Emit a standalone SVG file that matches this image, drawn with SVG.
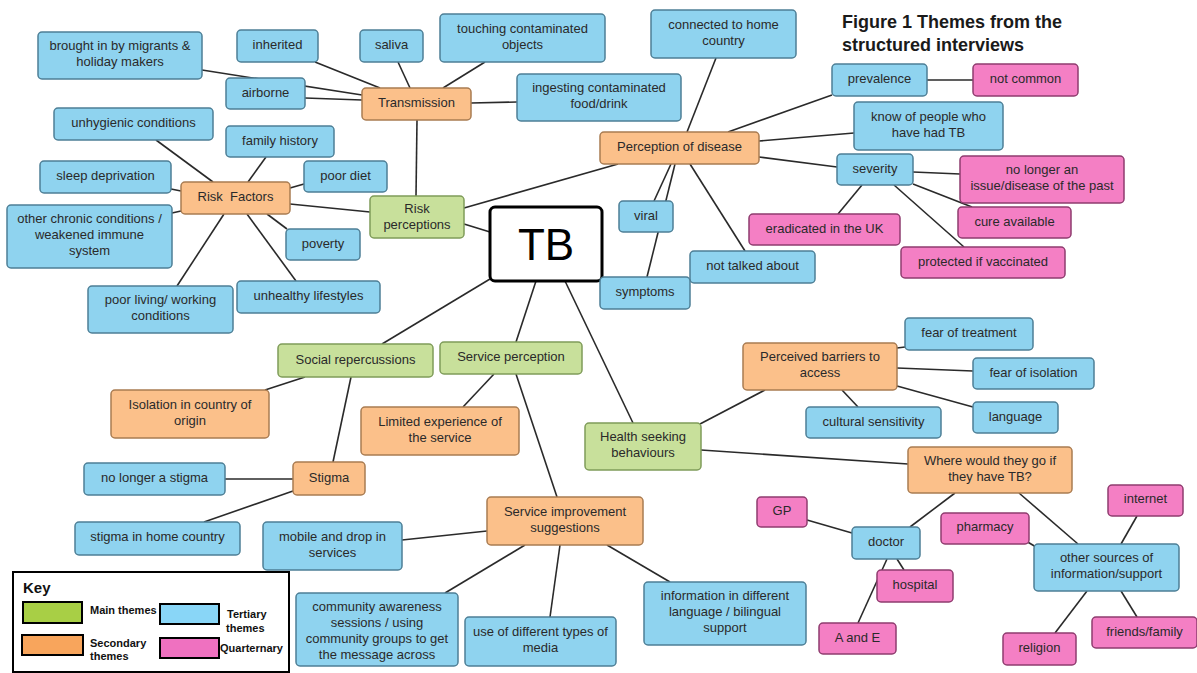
<svg xmlns="http://www.w3.org/2000/svg" width="1197" height="673" viewBox="0 0 1197 673">
<style>
.b{fill:#8fd3ef;stroke:#4e7f96;stroke-width:1.5}
.o{fill:#fbc08a;stroke:#a97c52;stroke-width:1.5}
.g{fill:#c8e09b;stroke:#7f9c5a;stroke-width:1.5}
.p{fill:#f47fc4;stroke:#8f3c6f;stroke-width:1.5}
text{font-family:"Liberation Sans",Arial,sans-serif;font-size:13px;fill:#2a2a2a;text-anchor:middle}
.k{font-weight:bold;font-size:11px;fill:#111;text-anchor:start}
.ttl{font-weight:bold;font-size:18px;fill:#1a1a1a;text-anchor:start}
#connectors line{stroke:#2a2a2a;stroke-width:1.6}
</style>
<rect width="1197" height="673" fill="#fff"/>
<g id="connectors">
<line x1="202" y1="70" x2="362" y2="95"/>
<line x1="305" y1="98" x2="362" y2="100"/>
<line x1="315" y1="62" x2="380" y2="88"/>
<line x1="398" y1="62" x2="410" y2="88"/>
<line x1="485" y1="62" x2="443" y2="88"/>
<line x1="517" y1="102" x2="471" y2="103"/>
<line x1="417" y1="120" x2="416" y2="196"/>
<line x1="156" y1="140" x2="213" y2="182"/>
<line x1="266" y1="157" x2="248" y2="182"/>
<line x1="171" y1="189" x2="181" y2="191"/>
<line x1="304" y1="184" x2="290" y2="188"/>
<line x1="172" y1="213" x2="181" y2="211"/>
<line x1="290" y1="204" x2="370" y2="212"/>
<line x1="287" y1="229" x2="267" y2="214"/>
<line x1="296" y1="281" x2="247" y2="214"/>
<line x1="177" y1="286" x2="224" y2="214"/>
<line x1="464" y1="224" x2="490" y2="232"/>
<line x1="464" y1="208" x2="618" y2="164"/>
<line x1="716" y1="58" x2="687" y2="132"/>
<line x1="832" y1="95" x2="728" y2="132"/>
<line x1="854" y1="133" x2="759" y2="141"/>
<line x1="837" y1="167" x2="759" y2="157"/>
<line x1="671" y1="164" x2="654" y2="201"/>
<line x1="675" y1="164" x2="647" y2="277"/>
<line x1="690" y1="164" x2="745" y2="251"/>
<line x1="927" y1="80" x2="973" y2="80"/>
<line x1="913" y1="172" x2="960" y2="174"/>
<line x1="913" y1="184" x2="972" y2="207"/>
<line x1="894" y1="185" x2="964" y2="247"/>
<line x1="862" y1="185" x2="838" y2="214"/>
<line x1="490" y1="279" x2="382" y2="344"/>
<line x1="536" y1="281" x2="516" y2="342"/>
<line x1="565" y1="281" x2="633" y2="423"/>
<line x1="305" y1="377" x2="265" y2="390"/>
<line x1="351" y1="377" x2="333" y2="462"/>
<line x1="494" y1="374" x2="463" y2="407"/>
<line x1="516" y1="374" x2="557" y2="497"/>
<line x1="225" y1="479" x2="293" y2="479"/>
<line x1="204" y1="522" x2="293" y2="491"/>
<line x1="402" y1="540" x2="487" y2="531"/>
<line x1="525" y1="545" x2="445" y2="593"/>
<line x1="560" y1="545" x2="550" y2="617"/>
<line x1="607" y1="545" x2="670" y2="582"/>
<line x1="700" y1="424" x2="765" y2="390"/>
<line x1="701" y1="450" x2="908" y2="464"/>
<line x1="897" y1="348" x2="905" y2="347"/>
<line x1="897" y1="368" x2="973" y2="371"/>
<line x1="897" y1="386" x2="973" y2="407"/>
<line x1="842" y1="390" x2="858" y2="407"/>
<line x1="955" y1="493" x2="910" y2="527"/>
<line x1="1019" y1="493" x2="1078" y2="544"/>
<line x1="807" y1="520" x2="852" y2="533"/>
<line x1="897" y1="559" x2="904" y2="570"/>
<line x1="887" y1="559" x2="858" y2="623"/>
<line x1="1026" y1="541" x2="1036" y2="547"/>
<line x1="1137" y1="516" x2="1121" y2="544"/>
<line x1="1087" y1="591" x2="1055" y2="633"/>
<line x1="1121" y1="591" x2="1137" y2="617"/>
</g>

<text class="ttl" x="842" y="28">Figure 1 Themes from the</text>
<text class="ttl" x="842" y="51">structured interviews</text>

<g id="tb"><rect x="490" y="207" width="112" height="74" rx="5" fill="#fff" stroke="#000" stroke-width="3"/><text x="546" y="260" style="font-size:44px;fill:#000">TB</text></g>

<g id="risk-perceptions"><rect class="g" x="370" y="196" width="94" height="42" rx="4"/><text x="417" y="213">Risk</text><text x="417" y="229">perceptions</text></g>
<g id="social-repercussions"><rect class="g" x="278" y="344" width="155" height="33" rx="4"/><text x="355.5" y="364">Social repercussions</text></g>
<g id="service-perception"><rect class="g" x="440" y="342" width="142" height="32" rx="4"/><text x="511" y="361">Service perception</text></g>
<g id="health-seeking"><rect class="g" x="585" y="423" width="116" height="47" rx="4"/><text x="643" y="441">Health seeking</text><text x="643" y="457">behaviours</text></g>

<g id="transmission"><rect class="o" x="362" y="88" width="109" height="32" rx="4"/><text x="416.5" y="107">Transmission</text></g>
<g id="risk-factors"><rect class="o" x="181" y="182" width="109" height="32" rx="4"/><text x="235.5" y="201" xml:space="preserve">Risk  Factors</text></g>
<g id="perception-of-disease"><rect class="o" x="600" y="132" width="159" height="32" rx="4"/><text x="679.5" y="151">Perception of disease</text></g>
<g id="isolation"><rect class="o" x="111" y="390" width="158" height="48" rx="4"/><text x="190" y="409">Isolation in country of</text><text x="190" y="425">origin</text></g>
<g id="limited-experience"><rect class="o" x="361" y="407" width="158" height="48" rx="4"/><text x="440" y="426">Limited experience of</text><text x="440" y="442">the service</text></g>
<g id="stigma"><rect class="o" x="293" y="462" width="72" height="33" rx="4"/><text x="329" y="482">Stigma</text></g>
<g id="service-improvement"><rect class="o" x="487" y="497" width="156" height="48" rx="4"/><text x="565" y="516">Service improvement</text><text x="565" y="532">suggestions</text></g>
<g id="perceived-barriers"><rect class="o" x="743" y="343" width="154" height="47" rx="4"/><text x="820" y="361">Perceived barriers to</text><text x="820" y="377">access</text></g>
<g id="where-go"><rect class="o" x="908" y="447" width="164" height="46" rx="4"/><text x="990" y="465">Where would they go if</text><text x="990" y="481">they have TB?</text></g>

<g id="brought-in"><rect class="b" x="38" y="32" width="164" height="47" rx="4"/><text x="120" y="50">brought in by migrants &amp;</text><text x="120" y="66">holiday makers</text></g>
<g id="inherited"><rect class="b" x="237" y="30" width="81" height="32" rx="4"/><text x="277.5" y="49">inherited</text></g>
<g id="saliva"><rect class="b" x="360" y="30" width="63" height="32" rx="4"/><text x="391.5" y="49">saliva</text></g>
<g id="touching"><rect class="b" x="440" y="14" width="165" height="48" rx="4"/><text x="522.5" y="33">touching contaminated</text><text x="522.5" y="49">objects</text></g>
<g id="airborne"><rect class="b" x="226" y="78" width="79" height="31" rx="4"/><text x="265.5" y="97">airborne</text></g>
<g id="ingesting"><rect class="b" x="517" y="74" width="164" height="47" rx="4"/><text x="599" y="92">ingesting contaminated</text><text x="599" y="108">food/drink</text></g>
<g id="connected"><rect class="b" x="651" y="10" width="145" height="48" rx="4"/><text x="723.5" y="29">connected to home</text><text x="723.5" y="45">country</text></g>
<g id="unhygienic"><rect class="b" x="54" y="108" width="159" height="32" rx="4"/><text x="133.5" y="127">unhygienic conditions</text></g>
<g id="family-history"><rect class="b" x="226" y="126" width="108" height="31" rx="4"/><text x="280" y="145">family history</text></g>
<g id="sleep-deprivation"><rect class="b" x="40" y="161" width="131" height="32" rx="4"/><text x="105.5" y="180">sleep deprivation</text></g>
<g id="poor-diet"><rect class="b" x="304" y="161" width="83" height="31" rx="4"/><text x="345.5" y="180">poor diet</text></g>
<g id="other-chronic"><rect class="b" x="7" y="205" width="165" height="63" rx="4"/><text x="89.5" y="223">other chronic conditions /</text><text x="89.5" y="239">weakened immune</text><text x="89.5" y="255">system</text></g>
<g id="poverty"><rect class="b" x="286" y="229" width="74" height="31" rx="4"/><text x="323" y="248">poverty</text></g>
<g id="unhealthy-lifestyles"><rect class="b" x="237" y="281" width="143" height="32" rx="4"/><text x="308.5" y="300">unhealthy lifestyles</text></g>
<g id="poor-living"><rect class="b" x="88" y="286" width="145" height="47" rx="4"/><text x="160.5" y="304">poor living/ working</text><text x="160.5" y="320">conditions</text></g>
<g id="prevalence"><rect class="b" x="832" y="64" width="95" height="32" rx="4"/><text x="879.5" y="83">prevalence</text></g>
<g id="know-of-people"><rect class="b" x="854" y="102" width="149" height="48" rx="4"/><text x="928.5" y="121">know of people who</text><text x="928.5" y="137">have had TB</text></g>
<g id="severity"><rect class="b" x="837" y="154" width="76" height="31" rx="4"/><text x="875" y="173">severity</text></g>
<g id="viral"><rect class="b" x="619" y="201" width="54" height="31" rx="4"/><text x="646" y="220">viral</text></g>
<g id="not-talked-about"><rect class="b" x="690" y="251" width="125" height="32" rx="4"/><text x="752.5" y="270">not talked about</text></g>
<g id="symptoms"><rect class="b" x="600" y="277" width="90" height="32" rx="4"/><text x="645" y="296">symptoms</text></g>
<g id="fear-of-treatment"><rect class="b" x="905" y="318" width="128" height="32" rx="4"/><text x="969" y="337">fear of treatment</text></g>
<g id="fear-of-isolation"><rect class="b" x="973" y="358" width="121" height="31" rx="4"/><text x="1033.5" y="377">fear of isolation</text></g>
<g id="cultural-sensitivity"><rect class="b" x="806" y="407" width="135" height="31" rx="4"/><text x="873.5" y="426">cultural sensitivity</text></g>
<g id="language"><rect class="b" x="973" y="402" width="85" height="31" rx="4"/><text x="1015.5" y="421">language</text></g>
<g id="doctor"><rect class="b" x="852" y="527" width="68" height="32" rx="4"/><text x="886" y="546">doctor</text></g>
<g id="other-sources"><rect class="b" x="1034" y="544" width="145" height="47" rx="4"/><text x="1106.5" y="562">other sources of</text><text x="1106.5" y="578">information/support</text></g>
<g id="no-longer-stigma"><rect class="b" x="84" y="463" width="141" height="32" rx="4"/><text x="154.5" y="482">no longer a stigma</text></g>
<g id="stigma-home"><rect class="b" x="75" y="522" width="165" height="33" rx="4"/><text x="157.5" y="541">stigma in home country</text></g>
<g id="mobile"><rect class="b" x="263" y="522" width="139" height="48" rx="4"/><text x="332.5" y="541">mobile and drop in</text><text x="332.5" y="557">services</text></g>
<g id="information-different"><rect class="b" x="644" y="582" width="162" height="63" rx="4"/><text x="725" y="600">information in different</text><text x="725" y="616">language / bilingual</text><text x="725" y="632">support</text></g>
<g id="community"><rect class="b" x="296" y="593" width="162" height="73" rx="4"/><text x="377" y="611">community awareness</text><text x="377" y="627">sessions / using</text><text x="377" y="643">community groups to get</text><text x="377" y="659">the message across</text></g>
<g id="use-of-media"><rect class="b" x="465" y="617" width="151" height="49" rx="4"/><text x="540.5" y="636">use of different types of</text><text x="540.5" y="652">media</text></g>

<g id="not-common"><rect class="p" x="973" y="64" width="105" height="32" rx="4"/><text x="1025.5" y="83">not common</text></g>
<g id="no-longer-issue"><rect class="p" x="960" y="156" width="164" height="47" rx="4"/><text x="1042" y="174">no longer an</text><text x="1042" y="190">issue/disease of the past</text></g>
<g id="cure-available"><rect class="p" x="958" y="207" width="113" height="31" rx="4"/><text x="1014.5" y="226">cure available</text></g>
<g id="eradicated"><rect class="p" x="749" y="214" width="151" height="31" rx="4"/><text x="824.5" y="233">eradicated in the UK</text></g>
<g id="protected"><rect class="p" x="901" y="247" width="164" height="31" rx="4"/><text x="983" y="266">protected if vaccinated</text></g>
<g id="gp"><rect class="p" x="757" y="497" width="50" height="30" rx="4"/><text x="782" y="515">GP</text></g>
<g id="pharmacy"><rect class="p" x="941" y="513" width="88" height="31" rx="4"/><text x="985" y="531">pharmacy</text></g>
<g id="internet"><rect class="p" x="1108" y="485" width="75" height="31" rx="4"/><text x="1145.5" y="503">internet</text></g>
<g id="hospital"><rect class="p" x="877" y="570" width="76" height="32" rx="4"/><text x="915" y="589">hospital</text></g>
<g id="a-and-e"><rect class="p" x="819" y="623" width="77" height="31" rx="4"/><text x="857.5" y="642">A and E</text></g>
<g id="religion"><rect class="p" x="1003" y="633" width="73" height="32" rx="4"/><text x="1039.5" y="652">religion</text></g>
<g id="friends-family"><rect class="p" x="1092" y="617" width="105" height="31" rx="4"/><text x="1144.5" y="636">friends/family</text></g>

<g id="key">
<rect x="13" y="572" width="276" height="100" fill="#fff" stroke="#000" stroke-width="2"/>
<text class="k" x="23" y="593" style="font-size:15px">Key</text>
<rect x="23" y="602" width="59" height="21" fill="#a8cf45" stroke="#000" stroke-width="2"/>
<text class="k" x="90" y="614">Main themes</text>
<rect x="160" y="604" width="59" height="20" fill="#89d6f7" stroke="#000" stroke-width="2"/>
<text class="k" x="227" y="618">Tertiary</text>
<text class="k" x="226" y="632">themes</text>
<rect x="22" y="635" width="61" height="20" fill="#f8a55c" stroke="#000" stroke-width="2"/>
<text class="k" x="90" y="647">Secondary</text>
<text class="k" x="90" y="660">themes</text>
<rect x="160" y="638" width="59" height="20" fill="#ef71c0" stroke="#000" stroke-width="2"/>
<text class="k" x="220" y="652">Quarternary</text>
</g>
</svg>
